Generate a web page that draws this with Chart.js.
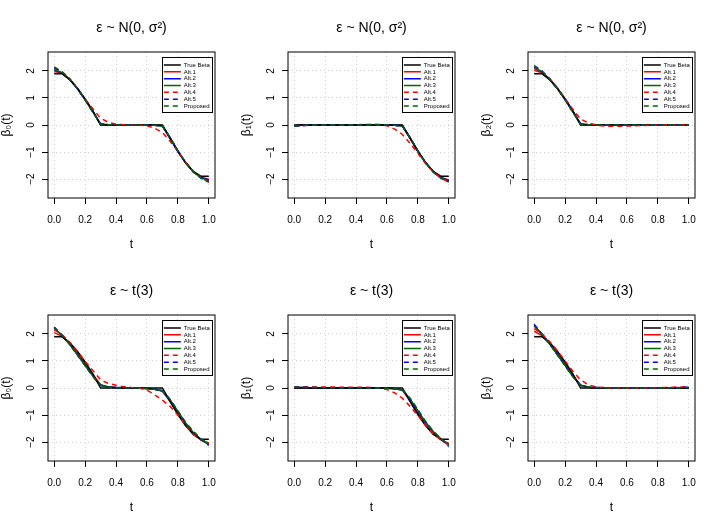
<!DOCTYPE html>
<html>
<head>
<meta charset="utf-8">
<script src="https://cdn.jsdelivr.net/npm/chart.js@4.4.0/dist/chart.umd.min.js"></script>
<style>
  html, body { margin: 0; padding: 0; background: #fff; }
  #page { position: relative; width: 720px; height: 526px; }
  canvas { position: absolute; }
</style>
</head>
<body>
<div id="page"></div>
<script>
// t grid shared by every curve
const T_VALUES = [0, 0.05, 0.1, 0.15, 0.2, 0.25, 0.3, 0.35, 0.4, 0.45, 0.5, 0.55, 0.6, 0.65, 0.7, 0.75, 0.8, 0.85, 0.9, 0.95, 1];
const X_TICKS = [0, 0.2, 0.4, 0.6, 0.8, 1];
const Y_TICKS = [-2, -1, 0, 1, 2];
const METHODS = ['True Beta', 'Alt.1', 'Alt.2', 'Alt.3', 'Alt.4', 'Alt.5', 'Proposed'];
const TITLES = ['\u03b5 ~ N(0, \u03c3\u00b2)', '\u03b5 ~ t(3)'];
const Y_LABELS = ['\u03b2\u2080(t)', '\u03b2\u2081(t)', '\u03b2\u2082(t)'];

// true coefficient functions
const trueB0 = [1.90, 1.90, 1.68, 1.36, 0.96, 0.52, 0, 0, 0, 0, 0, 0, 0, 0, 0, -0.50, -0.98, -1.40, -1.72, -1.90, -1.90];
const trueB1 = [0, 0, 0, 0, 0, 0, 0, 0, 0, 0, 0, 0, 0, 0, 0, -0.50, -0.98, -1.40, -1.72, -1.90, -1.90];
const trueB2 = [1.90, 1.90, 1.68, 1.36, 0.96, 0.52, 0, 0, 0, 0, 0, 0, 0, 0, 0, 0, 0, 0, 0, 0, 0];

// normal errors
const nB0a1 = [1.98, 1.92, 1.69, 1.36, 0.95, 0.51, 0.02, 0, 0, 0, 0, 0, 0, 0, -0.02, -0.49, -0.97, -1.40, -1.73, -1.93, -2.01];
const nB0a2 = [2.03, 1.93, 1.69, 1.35, 0.94, 0.50, 0.03, 0.01, 0, 0, 0, 0, 0, -0.01, -0.04, -0.48, -0.96, -1.39, -1.73, -1.94, -2.04];
const nB0a3 = [2.05, 1.94, 1.69, 1.35, 0.94, 0.49, 0.03, 0.01, 0, 0, 0, 0, 0, -0.01, -0.04, -0.48, -0.97, -1.40, -1.74, -1.95, -2.06];
const nB0a4 = [2.12, 1.98, 1.72, 1.35, 0.96, 0.60, 0.25, 0.10, 0.03, 0.01, 0, 0, -0.03, -0.12, -0.28, -0.60, -0.98, -1.38, -1.73, -1.95, -2.12];
const nB0a5 = [2.12, 1.96, 1.70, 1.34, 0.93, 0.48, 0.05, 0.01, 0, 0, 0, 0, 0, -0.01, -0.05, -0.47, -0.96, -1.39, -1.74, -1.96, -2.08];
const nB0pr = [2.15, 1.97, 1.70, 1.34, 0.93, 0.47, 0.04, 0.01, 0, 0, 0, 0, 0, -0.01, -0.04, -0.47, -0.96, -1.39, -1.74, -1.97, -2.10];

const nB1a1 = [-0.02, 0, 0, 0, 0, 0, 0, 0, 0, 0, 0, 0, 0, 0, -0.02, -0.49, -0.97, -1.40, -1.73, -1.94, -2.03];
const nB1a2 = [-0.03, -0.01, 0, 0, 0, 0, 0, 0, 0, 0, 0, 0, 0, -0.01, -0.04, -0.48, -0.96, -1.39, -1.73, -1.95, -2.05];
const nB1a3 = [-0.03, -0.01, 0, 0, 0, 0, 0, 0, 0, 0, 0, 0, 0, -0.01, -0.04, -0.48, -0.97, -1.40, -1.74, -1.96, -2.07];
const nB1a4 = [-0.05, -0.03, -0.01, 0, 0.01, 0.01, 0, 0, 0.01, 0.02, 0.03, 0.02, -0.03, -0.15, -0.35, -0.68, -1.05, -1.43, -1.74, -1.96, -2.13];
const nB1a5 = [-0.04, -0.02, 0, 0, 0, 0, 0, 0, 0, 0, 0.01, 0, 0, -0.01, -0.05, -0.47, -0.96, -1.39, -1.74, -1.96, -2.09];
const nB1pr = [-0.04, -0.02, 0, 0, 0, 0, 0, 0, 0, 0, 0.01, 0, 0, -0.01, -0.04, -0.47, -0.96, -1.40, -1.75, -1.97, -2.11];

const nB2a1 = [2.02, 1.93, 1.69, 1.36, 0.95, 0.51, 0.03, 0, 0, 0, 0, 0, 0, 0, 0, 0, 0, 0, 0, 0, 0];
const nB2a2 = [2.10, 1.96, 1.69, 1.35, 0.94, 0.50, 0.04, 0.01, 0, 0, 0, 0, 0, 0, 0, 0, 0, 0, 0, 0, 0];
const nB2a3 = [2.12, 1.97, 1.69, 1.35, 0.94, 0.49, 0.04, 0.01, 0, 0, 0, 0, 0, 0, 0, 0, 0, 0, 0, 0, 0];
const nB2a4 = [2.12, 1.98, 1.72, 1.38, 0.98, 0.58, 0.22, 0.08, 0, -0.04, -0.05, -0.05, -0.04, -0.03, -0.02, -0.01, 0, 0, 0, 0, 0];
const nB2a5 = [2.20, 2.00, 1.70, 1.34, 0.93, 0.50, 0.05, 0.01, 0, 0, 0, 0, 0, 0, 0, 0, 0, 0, 0, 0, -0.01];
const nB2pr = [2.16, 1.99, 1.70, 1.34, 0.93, 0.46, 0.04, 0.01, 0, 0, 0, 0, 0, 0, 0, 0, 0, 0, 0, 0, 0];

// t(3) errors
const tB0a1 = [2.05, 1.92, 1.66, 1.30, 0.90, 0.50, 0.12, 0.04, 0.02, 0.01, 0, 0, -0.02, -0.05, -0.12, -0.50, -0.95, -1.36, -1.72, -1.93, -2.03];
const tB0a2 = [2.20, 1.95, 1.62, 1.24, 0.84, 0.45, 0.10, 0.04, 0.02, 0.01, 0, 0, -0.02, -0.05, -0.10, -0.45, -0.88, -1.30, -1.66, -1.92, -2.08];
const tB0a3 = [2.22, 1.95, 1.62, 1.24, 0.84, 0.45, 0.10, 0.04, 0.02, 0.01, 0, 0, -0.02, -0.05, -0.10, -0.44, -0.87, -1.29, -1.65, -1.91, -2.08];
const tB0a4 = [2.15, 1.98, 1.70, 1.36, 0.98, 0.65, 0.30, 0.17, 0.10, 0.05, 0.02, 0, -0.08, -0.25, -0.45, -0.68, -1.00, -1.38, -1.70, -1.92, -2.08];
const tB0a5 = [2.26, 1.96, 1.62, 1.23, 0.83, 0.43, 0.10, 0.04, 0.02, 0.01, 0, 0, -0.02, -0.05, -0.10, -0.43, -0.86, -1.28, -1.64, -1.90, -2.12];
const tB0pr = [2.25, 1.96, 1.62, 1.23, 0.83, 0.43, 0.10, 0.04, 0.02, 0.01, 0, 0, -0.02, -0.05, -0.10, -0.42, -0.85, -1.27, -1.60, -1.88, -2.06];

const tB1a1 = [0.01, 0.01, 0, 0, 0, 0, 0, 0, 0, 0, 0, 0, 0, -0.02, -0.08, -0.48, -0.94, -1.36, -1.70, -1.92, -2.05];
const tB1a2 = [0.02, 0.02, 0.01, 0, 0, 0, 0, 0, 0, 0, 0, 0, -0.01, -0.03, -0.07, -0.42, -0.85, -1.28, -1.63, -1.90, -2.10];
const tB1a3 = [0.02, 0.02, 0.01, 0, 0, 0, 0, 0, 0, 0, 0, 0, -0.01, -0.03, -0.07, -0.42, -0.85, -1.27, -1.62, -1.89, -2.09];
const tB1a4 = [0.04, 0.05, 0.05, 0.04, 0.04, 0.04, 0.03, 0.03, 0.03, 0.03, 0.02, 0, -0.06, -0.18, -0.38, -0.68, -1.02, -1.38, -1.70, -1.92, -2.12];
const tB1a5 = [0.03, 0.03, 0.02, 0.01, 0.01, 0.01, 0.01, 0.01, 0, 0, 0, 0, -0.01, -0.03, -0.07, -0.42, -0.84, -1.26, -1.62, -1.90, -2.16];
const tB1pr = [0.03, 0.03, 0.02, 0.02, 0.01, 0.01, 0.01, 0.01, 0.01, 0, 0, 0, -0.01, -0.03, -0.06, -0.38, -0.80, -1.24, -1.60, -1.88, -2.10];

const tB2a1 = [2.10, 1.94, 1.66, 1.30, 0.90, 0.48, 0.10, 0.03, 0.01, 0, 0, 0, 0, 0, 0, 0, 0, 0, 0, 0, 0.01];
const tB2a2 = [2.30, 1.98, 1.63, 1.24, 0.84, 0.43, 0.10, 0.03, 0.01, 0, 0, 0, 0, 0, 0, 0, 0, 0, 0, 0, 0];
const tB2a3 = [2.32, 1.99, 1.63, 1.24, 0.84, 0.43, 0.10, 0.03, 0.01, 0, 0, 0, 0, 0, 0, 0, 0, 0, 0, 0, 0];
const tB2a4 = [2.20, 2.00, 1.72, 1.38, 1.00, 0.62, 0.30, 0.12, 0.04, 0.02, 0, 0, 0, 0, 0, 0, 0.01, 0.02, 0.03, 0.04, 0.06];
const tB2a5 = [2.36, 2.00, 1.63, 1.23, 0.83, 0.42, 0.10, 0.03, 0.02, 0.01, 0, 0, 0, 0, 0, 0, 0, 0.01, 0.01, 0.02, 0.03];
const tB2pr = [2.30, 1.99, 1.63, 1.23, 0.83, 0.42, 0.10, 0.04, 0.02, 0.01, 0, 0, 0, 0, 0, 0, 0, 0, 0.01, 0.01, 0.02];

const PANELS = [
  { title: TITLES[0], ylab: Y_LABELS[0], series: [trueB0, nB0a1, nB0a2, nB0a3, nB0a4, nB0a5, nB0pr] },
  { title: TITLES[0], ylab: Y_LABELS[1], series: [trueB1, nB1a1, nB1a2, nB1a3, nB1a4, nB1a5, nB1pr] },
  { title: TITLES[0], ylab: Y_LABELS[2], series: [trueB2, nB2a1, nB2a2, nB2a3, nB2a4, nB2a5, nB2pr] },
  { title: TITLES[1], ylab: Y_LABELS[0], series: [trueB0, tB0a1, tB0a2, tB0a3, tB0a4, tB0a5, tB0pr] },
  { title: TITLES[1], ylab: Y_LABELS[1], series: [trueB1, tB1a1, tB1a2, tB1a3, tB1a4, tB1a5, tB1pr] },
  { title: TITLES[1], ylab: Y_LABELS[2], series: [trueB2, tB2a1, tB2a2, tB2a3, tB2a4, tB2a5, tB2pr] }
];

// line styles (R: black, red, blue, darkgreen; lty 1 / 2)
const COLORS = ['#000000', '#ff0000', '#0000ff', '#006400', '#ff0000', '#0000ff', '#006400'];
const DASHES = [[], [], [], [], [5, 4], [5, 4], [5, 4]];
const DRAW_ORDER = [4, 7, 6, 5, 3, 2, 1];
const LINE_W = 1.5;

const FONT = '"Liberation Sans", Arial, Helvetica, sans-serif';
Chart.defaults.font.family = FONT;
Chart.defaults.color = '#000';

const fmtY = v => v < 0 ? '\u2212' + (-v) : String(v);

// plot box, legend frame, rotated y tick labels (R las=0)
const panelDeco = {
  id: 'panelDeco',
  afterInit(chart) {
    const lg = chart.legend;
    lg._layers = () => [{
      z: 1,
      draw: area => {
        const a = chart.chartArea, ctx = chart.ctx;
        ctx.save();
        ctx.fillStyle = '#fff';
        ctx.strokeStyle = '#000';
        ctx.lineWidth = 1;
        ctx.fillRect(a.right - 52.5, a.top + 5.5, 50, 55);
        ctx.strokeRect(a.right - 52.5, a.top + 5.5, 50, 55);
        ctx.restore();
        lg.draw(area);
      }
    }];
  },
  afterLayout(chart) {
    const a = chart.chartArea, lg = chart.legend;
    lg.left = a.right - 52;
    lg.right = a.right - 3;
    lg.top = a.top + 9.2;
    lg.bottom = a.top + 62;
    lg.width = lg.right - lg.left;
    lg.height = lg.bottom - lg.top;
  },
  afterDraw(chart) {
    const a = chart.chartArea, ctx = chart.ctx, ys = chart.scales.y;
    ctx.save();
    ctx.strokeStyle = '#000';
    ctx.lineWidth = 1;
    ctx.strokeRect(a.left, a.top, a.right - a.left, a.bottom - a.top);
    ctx.font = '10px ' + FONT;
    ctx.fillStyle = '#000';
    ctx.textAlign = 'center';
    ctx.textBaseline = 'middle';
    ys.ticks.forEach(t => {
      ctx.save();
      ctx.translate(ys.right - 16.5, ys.getPixelForValue(t.value));
      ctx.rotate(-Math.PI / 2);
      ctx.fillText(fmtY(t.value), 0, 0);
      ctx.restore();
    });
    ctx.restore();
  }
};

const page = document.getElementById('page');

PANELS.forEach((p, i) => {
  const cv = document.createElement('canvas');
  cv.width = 240;
  cv.height = 263;
  cv.style.left = (i % 3) * 240 + 'px';
  cv.style.top = Math.floor(i / 3) * 263 + 'px';
  page.appendChild(cv);

  const datasets = p.series.map((vals, k) => ({
    label: METHODS[k],
    data: T_VALUES.map((t, j) => ({ x: t, y: vals[j] })),
    borderColor: COLORS[k],
    backgroundColor: COLORS[k],
    borderDash: DASHES[k],
    borderWidth: LINE_W,
    order: DRAW_ORDER[k]
  }));

  new Chart(cv, {
    type: 'line',
    data: { datasets },
    plugins: [panelDeco],
    options: {
      responsive: false,
      animation: false,
      events: [],
      layout: { padding: { right: 25 } },
      elements: { point: { radius: 0 }, line: { tension: 0 } },
      plugins: {
        tooltip: { enabled: false },
        title: {
          display: true, text: p.title, fullSize: false,
          font: { size: 14, weight: 'normal' },
          padding: { top: 19.5, bottom: 15.7 }
        },
        legend: {
          position: 'chartArea', align: 'start',
          labels: {
            usePointStyle: true, pointStyle: 'line', pointStyleWidth: 17, boxHeight: 6,
            font: { size: 6 }, color: '#000', padding: 0.83,
            sort: (a, b) => a.datasetIndex - b.datasetIndex,
            generateLabels: ch => Chart.defaults.plugins.legend.labels.generateLabels(ch).map(l =>
              Object.assign(l, { lineDash: DASHES[l.datasetIndex], lineWidth: LINE_W }))
          }
        }
      },
      scales: {
        x: {
          type: 'linear', min: -0.04, max: 1.04,
          afterBuildTicks: s => { s.ticks = X_TICKS.map(v => ({ value: v })); },
          afterFit: s => { s.height = 65; },
          ticks: { callback: v => v.toFixed(1), font: { size: 10 }, padding: 10, maxRotation: 0, autoSkip: false },
          grid: { color: '#d3d3d3', tickColor: '#000', tickLength: 6 },
          border: { display: false, dash: [1, 3] },
          title: { display: true, text: 't', font: { size: 12 }, padding: { top: 0, bottom: 11 } }
        },
        y: {
          min: -2.7, max: 2.7,
          afterBuildTicks: s => { s.ticks = Y_TICKS.map(v => ({ value: v })); },
          afterFit: s => { s.width = 48; },
          ticks: { display: false, callback: fmtY, autoSkip: false },
          grid: { color: '#d3d3d3', tickColor: '#000', tickLength: 6 },
          border: { display: false, dash: [1, 3] },
          title: { display: true, text: p.ylab, font: { size: 12 }, padding: { top: -1, bottom: 0 } }
        }
      }
    }
  });
});
</script>
</body>
</html>
